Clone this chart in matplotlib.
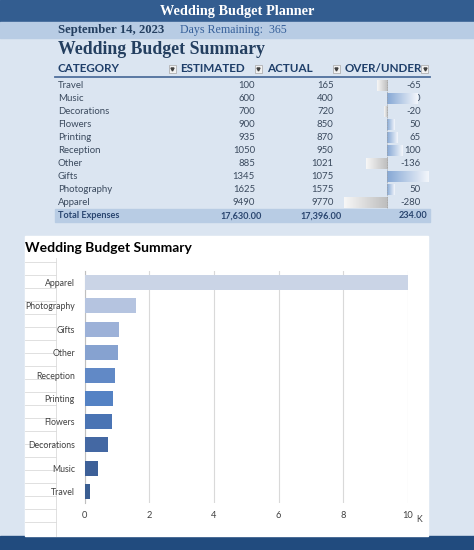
import matplotlib
matplotlib.use("Agg")
import matplotlib.pyplot as plt
import numpy as np
from matplotlib.patches import Rectangle
from matplotlib.colors import LinearSegmentedColormap

# ---------------- data ----------------
categories = ["Travel", "Music", "Decorations", "Flowers", "Printing",
              "Reception", "Other", "Gifts", "Photography", "Apparel"]
estimated = [100, 600, 700, 900, 935, 1050, 885, 1345, 1625, 9490]
actual = [165, 400, 720, 850, 870, 950, 1021, 1075, 1575, 9770]
over_under = [-65, 200, -20, 50, 65, 100, -136, 270, 50, -280]
total_labels = ["17,630.00", "17,396.00", "234.00"]

chart_values_k = [0.165, 0.40, 0.72, 0.85, 0.87, 0.95, 1.021, 1.075, 1.575, 10.0]
chart_ticks = [0, 2, 4, 6, 8, 10]
bar_colors = ["#3A5D91", "#3D6098", "#4468A3", "#4A74B4", "#5482C4",
              "#6189C6", "#86A2D0", "#9CB1D8", "#B5C4E0", "#CAD4E6"]

W, H = 474, 550
fig = plt.figure(figsize=(W / 100, H / 100), dpi=100)

SERIF = "Liberation Serif"
SANS = "Lato"

bg = fig.add_axes([0, 0, 1, 1])
bg.set_xlim(0, W)
bg.set_ylim(H, 0)
bg.axis("off")

# backgrounds
bg.add_patch(Rectangle((0, 0), W, H, color="#DBE5F1", zorder=0))
bg.add_patch(Rectangle((0, 0), W, 22, color="#335D90", zorder=1))
bg.add_patch(Rectangle((0, 22), W, 15.5, color="#B8CCE4", zorder=1))
bg.add_patch(Rectangle((0, 535.5), W, 15, color="#214B7E", zorder=1))

bg.text(237, 11.5, "Wedding Budget Planner", color="white", fontsize=10.3,
        fontweight="bold", family=SERIF, ha="center", va="center", zorder=3)
bg.text(58, 30, "September 14, 2023", color="#243F60", fontsize=9.2,
        fontweight="bold", family=SERIF, ha="left", va="center", zorder=3)
bg.text(180, 30, "Days Remaining:  365", color="#36609A", fontsize=8.6,
        family=SERIF, ha="left", va="center", zorder=3)
bg.text(58, 49.5, "Wedding Budget Summary", color="#243F60", fontsize=12.8,
        fontweight="bold", family=SERIF, ha="left", va="center", zorder=3)

# table header
hdr_color = "#1F3F6A"
hdr_fs = 8.4
bg.text(58, 68.5, "CATEGORY", color=hdr_color, fontsize=hdr_fs, fontweight="bold",
        family=SANS, ha="left", va="center")
bg.text(180.5, 68.5, "ESTIMATED", color=hdr_color, fontsize=hdr_fs, fontweight="bold",
        family=SANS, ha="left", va="center")
bg.text(267, 68.5, "ACTUAL", color=hdr_color, fontsize=hdr_fs, fontweight="bold",
        family=SANS, ha="left", va="center")
t_ou = bg.text(345, 68.5, "OVER/UNDER", color=hdr_color, fontsize=hdr_fs, fontweight="bold",
               family=SANS, ha="left", va="center")
clip_rect = Rectangle((340, 60), 81.5, 15, transform=bg.transData, visible=False)
bg.add_patch(clip_rect)
t_ou.set_clip_path(clip_rect)
t_ou.set_clip_on(True)
for bx in [169, 255, 333, 421.5]:
    bg.add_patch(Rectangle((bx, 65), 7, 8, facecolor="#F2F2F2", edgecolor="#A6A6A6",
                           lw=0.5, zorder=4))
    bg.plot([bx + 3.5], [69.3], marker="v", ms=2.2, color="#404040", zorder=5)
bg.plot([55.5, 430], [77.3, 77.3], color="#4F6F9C", lw=1.3, zorder=3)

# rows
row_y0, row_h = 85.3, 13.04
txt_color = "#3B4A5E"
row_fs = 6.9
for i, cat in enumerate(categories):
    y = row_y0 + i * row_h
    bg.text(58, y, cat, color=txt_color, fontsize=row_fs, family=SANS, ha="left", va="center", zorder=5)
    bg.text(255, y, f"{estimated[i]}", color=txt_color, fontsize=row_fs, family=SANS,
            ha="right", va="center", zorder=5)
    bg.text(333.7, y, f"{actual[i]}", color=txt_color, fontsize=row_fs, family=SANS,
            ha="right", va="center", zorder=5)
    bg.text(420.7, y, f"{over_under[i]}", color=txt_color, fontsize=row_fs, family=SANS,
            ha="right", va="center", zorder=5)

ty = row_y0 + 10 * row_h
bg.add_patch(Rectangle((55.5, ty - 6.3), 374.5, 12.6, color="#B8CCE4", zorder=1))
bg.text(58, ty, "Total Expenses", color="#2A4670", fontsize=6.6, fontweight="bold",
        family=SANS, ha="left", va="center", zorder=5)
for xr, lab in zip([262, 341.7, 427.7], total_labels):
    bg.text(xr, ty, lab, color="#2A4670", fontsize=6.6, fontweight="bold",
            family=SANS, ha="right", va="center", zorder=5)

# ---------------- data bars in the table ----------------
px_per_unit = 0.155
ax_left, ax_right, zero_px = 340, 431, 387
top_px = row_y0 - row_h / 2
bot_px = row_y0 + 9.5 * row_h
dax = fig.add_axes([ax_left / W, 1 - bot_px / H, (ax_right - ax_left) / W, (bot_px - top_px) / H])
dax.patch.set_alpha(0)
for s in dax.spines.values():
    s.set_visible(False)
dax.set_xticks([])
dax.set_yticks([])
xl = (-(zero_px - ax_left) / px_per_unit, (ax_right - zero_px) / px_per_unit)
ypos = np.arange(len(categories))
bars = dax.barh(ypos, over_under, height=0.88, color="none", edgecolor="none")
pos_cmap = LinearSegmentedColormap.from_list("p", ["#86A8D5", "#F3F6FB"])
neg_cmap = LinearSegmentedColormap.from_list("n", ["#F7F7F7", "#BDBDBD"])
grad = np.linspace(0, 1, 64).reshape(1, -1)
for b, v in zip(bars, over_under):
    x0, y0 = b.get_x(), b.get_y()
    w, h = b.get_width(), b.get_height()
    xa, xb = min(x0, x0 + w), max(x0, x0 + w)
    cm = pos_cmap if v >= 0 else neg_cmap
    im = dax.imshow(grad, cmap=cm, extent=(xa, xb, y0 + h, y0), aspect="auto",
                    interpolation="bilinear", zorder=2)
    im.set_clip_path(b)
dax.axvline(0, color="#A0A0A0", lw=0.6, ls=(0, (1, 1)), zorder=3)
dax.set_xlim(*xl)
dax.set_ylim(9.5, -0.5)

# ---------------- chart panel ----------------
bg.add_patch(Rectangle((25, 235.5), 403.5, 300, color="white", zorder=1))
for k in range(21):
    yy = 261.7 + k * 13.03
    bg.plot([25, 56], [yy, yy], color="#DADADA", lw=0.6, zorder=2)
bg.plot([56, 56], [258, 535.5], color="#DADADA", lw=0.6, zorder=2)
bg.text(25, 247.5, "Wedding Budget Summary", color="black", fontsize=10,
        fontweight="bold", family=SANS, ha="left", va="center", zorder=3)

c_left, c_right = 84.7, 408
c_top, c_bot = 271.1, 502.9
cax = fig.add_axes([c_left / W, 1 - c_bot / H, (c_right - c_left) / W, (c_bot - c_top) / H])
cax.patch.set_alpha(0)
cax.barh(categories, chart_values_k, height=0.65, color=bar_colors, zorder=3)
cax.set_xlim(0, 10)
cax.set_ylim(-0.5, 9.5)
cax.set_xticks(chart_ticks)
cax.set_xticklabels([str(t) for t in chart_ticks])
cax.grid(axis="x", color="#D9D9D9", lw=0.8, zorder=0)
cax.set_axisbelow(True)
for s in ["top", "right", "bottom"]:
    cax.spines[s].set_visible(False)
cax.spines["left"].set_color("#BFBFBF")
cax.spines["left"].set_linewidth(0.8)
cax.tick_params(axis="x", length=0, labelsize=6.7, labelcolor="#404040", pad=6)
cax.tick_params(axis="y", length=0, labelsize=6.3, labelcolor="#404040", pad=7)
for lab in cax.get_xticklabels() + cax.get_yticklabels():
    lab.set_family("Lato")
bg.text(419, 519, "K", fontsize=6.3, color="#404040", family="Lato",
        ha="center", va="center", zorder=5)

fig.savefig("out.png", dpi=100)
